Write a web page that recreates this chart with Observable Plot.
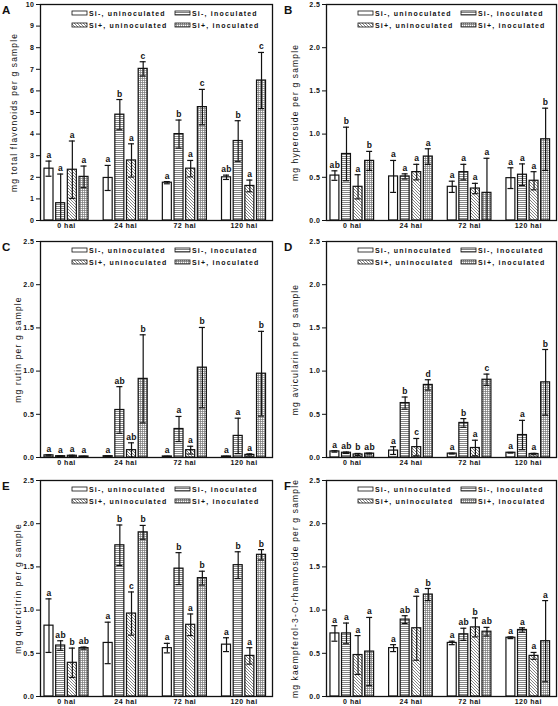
<!DOCTYPE html>
<html><head><meta charset="utf-8">
<script src="https://cdn.jsdelivr.net/npm/d3@7"></script>
<script src="https://cdn.jsdelivr.net/npm/@observablehq/plot@0.6"></script>
<style>
html,body{margin:0;padding:0;overflow:hidden;background:#fff}
#wrap{position:relative;width:558px;height:706px;font-family:"Liberation Sans",Arial,sans-serif}
.panel{position:absolute}
.panel svg{display:block}
.overlay{position:absolute;left:0;top:0;pointer-events:none}
.panel g[aria-label="y-axis label"]{font-size:8.5px;font-weight:normal;letter-spacing:1.15px}
.panel g[aria-label="y-axis tick label"]{font-size:7px;letter-spacing:0.5px}
.panel g[aria-label="x-axis tick label"]{font-size:7px;letter-spacing:0.5px}
.panel g[aria-label="text"]{font-size:8.5px;letter-spacing:0.4px}
</style>
</head><body>
<svg width="0" height="0" style="position:absolute">
<defs>
<pattern id="pH" patternUnits="userSpaceOnUse" width="4" height="2">
<rect width="4" height="2" fill="#fff"/>
<line x1="0" y1="0.5" x2="4" y2="0.5" stroke="#666" stroke-width="0.8"/>
</pattern>
<pattern id="pD" patternUnits="userSpaceOnUse" width="3" height="3">
<rect width="3" height="3" fill="#fff"/>
<path d="M0,0L3,3M-1,2L1,4M2,-1L4,1" stroke="#666" stroke-width="0.8"/>
</pattern>
<pattern id="pG" patternUnits="userSpaceOnUse" width="2" height="2">
<rect width="2" height="2" fill="#fff"/>
<path d="M0,0.5H2M0.5,0V2" stroke="#777" stroke-width="0.7"/>
</pattern>
</defs>
</svg>
<div id="wrap"></div>
<script>
// ---------- data ----------
const times = ["0 hai", "24 hai", "72 hai", "120 hai"];
const treatments = ["Si-, uninoculated", "Si-, inoculated", "Si+, uninoculated", "Si+, inoculated"];

const ticksA = [0, 1, 2, 3, 4, 5, 6, 7, 8, 9, 10];
const ticksB = [0, 0.5, 1.0, 1.5, 2.0, 2.5];

// order: for each time, the four treatments
const meanA = [2.40, 0.80, 2.35, 2.02, 1.97, 4.90, 2.78, 7.02, 1.75, 4.00, 2.40, 5.25, 2.00, 3.68, 1.60, 6.48];
const sdA   = [0.35, 1.35, 1.33, 0.50, 0.58, 0.70, 0.77, 0.33, 0.05, 0.65, 0.38, 0.82, 0.10, 0.94, 0.27, 1.30];
const letA  = ["a","a","a","a", "a","b","a","c", "a","b","a","c", "ab","b","a","c"];

const meanB = [0.52, 0.77, 0.39, 0.69, 0.51, 0.51, 0.56, 0.74, 0.39, 0.56, 0.37, 0.32, 0.49, 0.53, 0.46, 0.94];
const sdB   = [0.055, 0.31, 0.14, 0.11, 0.185, 0.03, 0.09, 0.09, 0.065, 0.09, 0.06, 0.40, 0.12, 0.125, 0.105, 0.36];
const letB  = ["ab","b","a","b", "a","a","a","a", "a","a","a","a", "a","a","a","b"];

const meanC = [0.025, 0.015, 0.02, 0.012, 0.015, 0.55, 0.085, 0.91, 0.012, 0.33, 0.085, 1.04, 0.012, 0.25, 0.03, 0.97];
const sdC   = [0.006, 0.003, 0.006, 0.002, 0.003, 0.27, 0.085, 0.51, 0.002, 0.145, 0.045, 0.465, 0.002, 0.205, 0.012, 0.49];
const letC  = ["a","a","a","a", "a","ab","ab","b", "a","a","a","b", "a","a","a","b"];

const meanD = [0.07, 0.055, 0.035, 0.045, 0.08, 0.63, 0.12, 0.84, 0.045, 0.40, 0.11, 0.90, 0.055, 0.26, 0.04, 0.87];
const sdD   = [0.008, 0.008, 0.012, 0.005, 0.045, 0.07, 0.10, 0.06, 0.005, 0.05, 0.09, 0.065, 0.004, 0.17, 0.008, 0.38];
const letD  = ["a","ab","b","ab", "a","b","c","d", "a","b","a","c", "a","a","a","b"];

const meanE = [0.82, 0.59, 0.39, 0.56, 0.62, 1.75, 0.96, 1.90, 0.56, 1.48, 0.83, 1.37, 0.60, 1.52, 0.47, 1.64];
const sdE   = [0.31, 0.055, 0.17, 0.012, 0.24, 0.235, 0.25, 0.08, 0.055, 0.185, 0.125, 0.08, 0.08, 0.155, 0.095, 0.06];
const letE  = ["a","ab","b","ab", "a","b","c","b", "a","b","a","b", "a","b","a","b"];

const meanF = [0.73, 0.73, 0.48, 0.52, 0.56, 0.89, 0.79, 1.18, 0.62, 0.72, 0.80, 0.75, 0.68, 0.77, 0.47, 0.64];
const sdF   = [0.09, 0.12, 0.225, 0.395, 0.04, 0.045, 0.37, 0.07, 0.02, 0.07, 0.11, 0.05, 0.01, 0.025, 0.04, 0.47];
const letF  = ["a","a","a","a", "a","ab","a","b", "a","ab","b","ab", "a","a","a","a"];

const panelIds = ["A", "B", "C", "D", "E", "F"];
const yLabels = [
  "mg total flavonoids per g sample",
  "mg hyperoside per g sample",
  "mg rutin per g sample",
  "mg avicularin per g sample",
  "mg quercitrin per g sample",
  "mg kaempferol-3-O-rhamnoside per g sample"
];

// ---------- style / layout ----------
const fills = ["#fff", "url(#pH)", "url(#pD)", "url(#pG)"];
const INK = "#111";
const G = 5.07, barHalf = 0.386, capHalf = 0.257;
const W = 279, H = 236, MT = 4, MB = 16;
const rowTops = [0, 237, 476];
const colLefts = [0, 279];
const colMargins = [[40, 7], [47, 2]];
const labelOffsets = [30, 35, 26, 35, 26, 35];

const panelData = [
  [meanA, sdA, letA, ticksA, d3.format("d")],
  [meanB, sdB, letB, ticksB, d3.format(".1f")],
  [meanC, sdC, letC, ticksB, d3.format(".1f")],
  [meanD, sdD, letD, ticksB, d3.format(".1f")],
  [meanE, sdE, letE, ticksB, d3.format(".1f")],
  [meanF, sdF, letF, ticksB, d3.format(".1f")]
];

const tickPos = times.map((t, g) => g * G + 1.5);
const tickLabel = new Map(tickPos.map((p, g) => [p, times[g]]));

const wrap = document.getElementById("wrap");

panelData.forEach(([mean, sd, lets, ticks, fmt], pi) => {
  const col = pi % 2, row = Math.floor(pi / 2);
  const [ml, mr] = colMargins[col];
  const data = [];
  times.forEach((t, g) => treatments.forEach((tr, b) => {
    const k = g * 4 + b;
    data.push({time: t, treat: tr, pos: g * G + b, mean: mean[k],
      lo: Math.max(0, mean[k] - sd[k]), hi: mean[k] + sd[k], letter: lets[k]});
  }));

  const svg = Plot.plot({
    width: W, height: H,
    marginLeft: ml, marginRight: mr, marginTop: MT, marginBottom: MB,
    style: {fontFamily: "'Liberation Sans', Arial, sans-serif", fontSize: "7px", fontWeight: "bold", color: INK, background: "transparent", overflow: "visible"},
    x: {domain: [-0.728, 19.15]},
    y: {domain: [ticks[0], ticks[ticks.length - 1]]},
    color: {domain: treatments, range: fills},
    marks: [
      Plot.rect(data, {x1: d => d.pos - barHalf, x2: d => d.pos + barHalf, y1: 0, y2: "mean", fill: "treat", stroke: INK, strokeWidth: 1.2}),
      Plot.ruleX(data, {x: "pos", y1: "lo", y2: "hi", stroke: INK, strokeWidth: 1.2}),
      Plot.ruleY(data, {y: "hi", x1: d => d.pos - capHalf, x2: d => d.pos + capHalf, stroke: INK, strokeWidth: 1.2}),
      Plot.ruleY(data.filter(d => d.lo > 0), {y: "lo", x1: d => d.pos - capHalf, x2: d => d.pos + capHalf, stroke: INK, strokeWidth: 1.2}),
      Plot.text(data, {x: "pos", y: "hi", text: "letter", lineAnchor: "bottom", dy: -3, fill: INK}),
      Plot.axisX(tickPos, {tickSize: 0, tickPadding: 3, tickFormat: d => tickLabel.get(d), label: null}),
      Plot.axisY(ticks, {tickSize: 4, tickPadding: 2, tickFormat: fmt, label: yLabels[pi], labelAnchor: "center", labelOffset: labelOffsets[pi], labelArrow: "none"}),
      Plot.frame({stroke: INK, strokeWidth: 1.3})
    ]
  });

  const div = document.createElement("div");
  div.className = "panel";
  div.style.left = colLefts[col] + "px";
  div.style.top = rowTops[row] + "px";
  div.style.width = W + "px";
  div.style.height = H + "px";
  div.appendChild(svg);

  // overlay: panel letter + legend
  const ov = d3.create("svg").attr("class", "overlay").attr("width", W).attr("height", H)
    .style("font-family", "'Liberation Sans', Arial, sans-serif").style("font-weight", "bold");
  ov.append("text").attr("x", col === 0 ? 2 : 5).attr("y", MT + 10)
    .attr("font-size", 11.5).attr("fill", INK).text(panelIds[pi]);
  const swX = [32, 135], txX = [49, 152], swY = [7, 19], txY = [12.3, 24.3];
  treatments.forEach((tr, i) => {
    const c = i % 2, r = Math.floor(i / 2);
    ov.append("rect").attr("x", ml + swX[c]).attr("y", MT + swY[r]).attr("width", 15).attr("height", 4)
      .attr("fill", fills[i]).attr("stroke", INK).attr("stroke-width", 0.8);
    ov.append("text").attr("x", ml + txX[c]).attr("y", MT + txY[r]).attr("font-size", 7)
      .attr("letter-spacing", "1.2px").attr("fill", INK).text(tr);
  });
  div.appendChild(ov.node());
  wrap.appendChild(div);
});
</script>
</body></html>
